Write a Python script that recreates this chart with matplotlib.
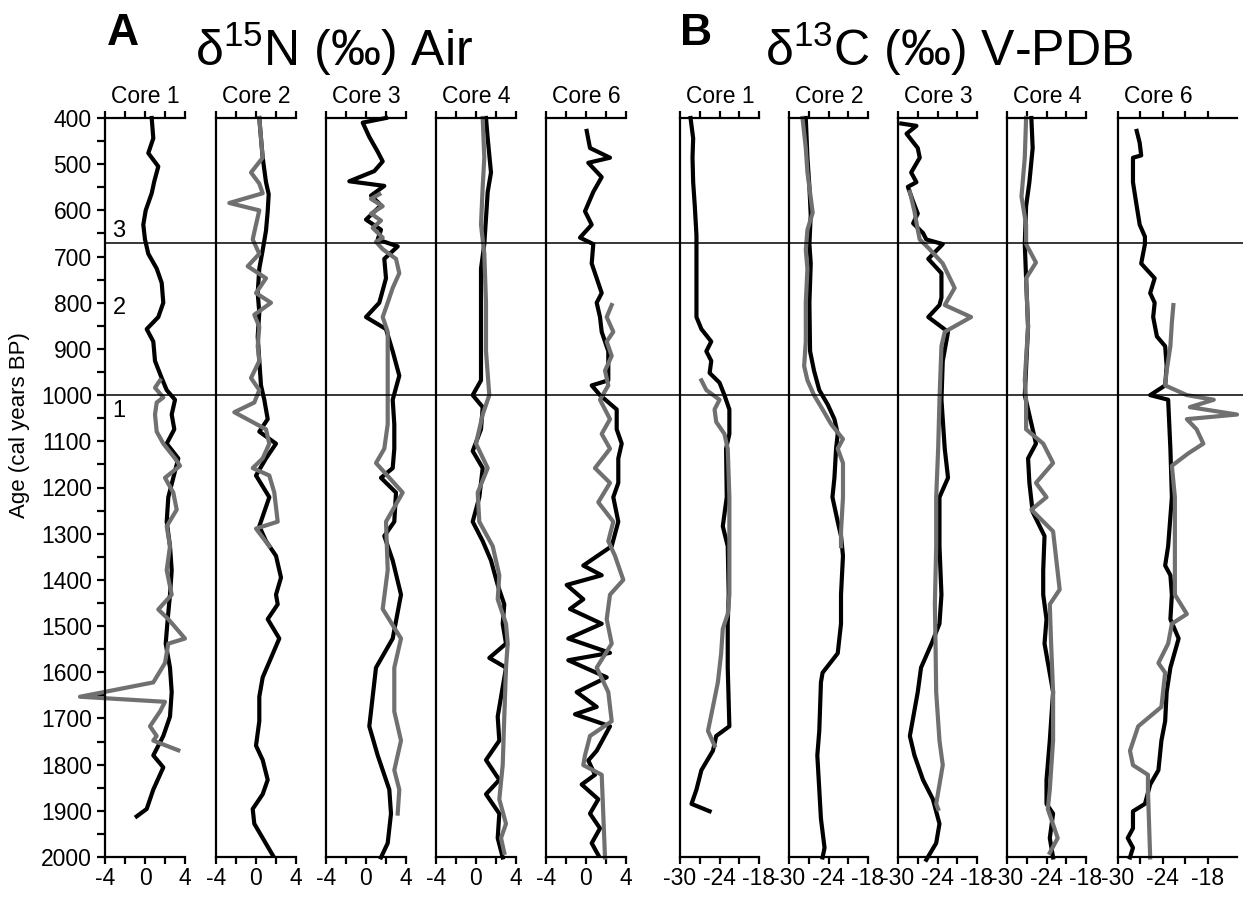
import matplotlib
matplotlib.use("Agg")
import matplotlib.pyplot as plt
from matplotlib.lines import Line2D
from matplotlib.transforms import blended_transform_factory

plt.rcParams['font.family'] = ['Liberation Sans', 'DejaVu Sans']
plt.rcParams['mathtext.fontset'] = 'custom'
plt.rcParams['mathtext.rm'] = 'Liberation Sans'

# ---- datos (edad cal BP, valor) ----
# d15N
a1_k_age = [400, 444, 476, 505, 537, 563, 600, 631, 663, 694, 726, 757, 800, 831, 857, 884, 926, 963, 989, 1010, 1042, 1074, 1105, 1137, 1179, 1221, 1274, 1327, 1379, 1432, 1485, 1538, 1590, 1643, 1696, 1738, 1780, 1806, 1854, 1896, 1912]
a1_k_val = [0.67, 0.83, 0.33, 1.33, 0.93, 0.67, 0.07, -0.17, 0, 0.33, 1.17, 1.67, 1.83, 1.33, 0.17, 0.83, 1.0, 1.67, 2.17, 3.0, 2.67, 2.93, 2.17, 3.33, 2.83, 2.33, 2.17, 2.5, 2.67, 2.5, 2.27, 2.07, 2.5, 2.67, 2.5, 1.83, 0.83, 1.83, 0.83, 0.17, -0.83]
a1_g_age = [968, 984, 1005, 1016, 1042, 1079, 1105, 1137, 1153, 1179, 1211, 1248, 1284, 1327, 1379, 1432, 1464, 1485, 1527, 1538, 1580, 1622, 1653, 1664, 1685, 1717, 1738, 1748, 1769]
a1_g_val = [1.5, 1.0, 1.83, 1.17, 1.0, 1.17, 1.83, 3.0, 3.5, 2.0, 2.83, 3.17, 2.17, 2.5, 2.17, 2.67, 1.33, 2.33, 4.0, 2.33, 2.0, 0.83, -6.5, 2.0, 1.5, 0.5, 1.17, 0.83, 3.33]

a2_k_age = [400, 444, 486, 539, 565, 602, 644, 686, 726, 779, 821, 873, 926, 979, 1010, 1052, 1079, 1105, 1137, 1174, 1221, 1284, 1316, 1348, 1395, 1432, 1453, 1485, 1527, 1569, 1611, 1653, 1706, 1759, 1790, 1833, 1864, 1896, 1928, 1959, 1996]
a2_k_val = [0.33, 0.5, 0.67, 1.0, 1.27, 1.17, 1.0, 0.67, 0.33, 0.17, 0.33, 0.17, 0.33, 0.5, 0.83, 1.17, 0.33, 2.0, 1.0, 0, 1.33, 0.33, 1.0, 2.0, 2.5, 2.0, 2.17, 1.17, 2.33, 1.5, 0.67, 0.33, 0.33, 0, 0.67, 1.17, 0.67, -0.33, -0.17, 0.67, 1.67]
a2_g_age = [400, 444, 486, 518, 542, 563, 584, 600, 631, 663, 694, 721, 747, 779, 800, 826, 852, 894, 926, 963, 989, 1016, 1037, 1074, 1105, 1137, 1158, 1174, 1211, 1274, 1289, 1327]
a2_g_val = [0.33, 0.5, 0.67, -0.5, 0.33, 0.67, -2.67, 0.33, 0, -0.33, 0.33, -0.83, 1.0, 0, 1.5, -0.17, 0.33, 0.17, 0.33, -0.5, 0.33, -0.17, -2.17, 1.0, 1.33, 0.67, -0.33, 1.33, 1.83, 2.17, 0, 1.33]

a3_k_age = [400, 410, 441, 473, 494, 515, 537, 547, 568, 589, 620, 642, 663, 678, 705, 747, 800, 831, 857, 905, 958, 1010, 1063, 1116, 1158, 1179, 1211, 1274, 1305, 1358, 1432, 1527, 1590, 1717, 1780, 1854, 1906, 1970, 2001]
a3_k_val = [2.0, -0.33, 0.33, 1.17, 1.67, 0.83, -1.67, 1.83, 0.5, 1.5, 0, 1.5, 1.17, 3.17, 1.83, 2.0, 1.33, 0.0, 2.0, 2.67, 3.33, 2.67, 2.83, 2.83, 2.67, 1.5, 3.0, 2.83, 1.83, 2.67, 3.5, 2.67, 1.0, 0.33, 1.17, 2.33, 2.5, 2.17, 1.5]
a3_g_age = [565, 575, 591, 607, 622, 638, 659, 668, 684, 705, 736, 768, 800, 831, 863, 958, 1063, 1116, 1147, 1211, 1274, 1379, 1463, 1527, 1590, 1685, 1748, 1812, 1854, 1906]
a3_g_val = [1.33, 0.5, 1.67, 0.5, 1.5, 0.67, 1.67, 1.0, 1.67, 3.0, 3.33, 2.67, 2.17, 1.67, 2.17, 2.17, 2.17, 1.83, 1.0, 3.67, 2.0, 2.17, 1.67, 3.5, 2.83, 2.83, 3.5, 2.83, 3.33, 3.17]

a4_k_age = [400, 444, 518, 560, 617, 673, 726, 800, 884, 968, 1000, 1026, 1074, 1121, 1158, 1221, 1274, 1316, 1358, 1411, 1453, 1495, 1538, 1569, 1590, 1696, 1748, 1790, 1833, 1864, 1906, 1959, 2001]
a4_k_val = [1.0, 1.17, 1.5, 1.17, 1.0, 0.83, 0.5, 0.5, 0.5, 0.5, -0.33, 0.67, 0.5, -0.33, 0.67, 0.33, -0.33, 0.67, 1.5, 2.17, 2.83, 2.67, 3.0, 1.33, 3.0, 2.17, 2.33, 1.0, 2.33, 1.0, 2.33, 2.17, 2.67]
a4_g_age = [400, 486, 549, 631, 694, 800, 905, 1000, 1042, 1105, 1158, 1211, 1274, 1327, 1390, 1442, 1495, 1538, 1590, 1696, 1801, 1875, 1928, 1959, 1991]
a4_g_val = [0.67, 0.83, 0.67, 0.5, 0.83, 1.0, 1.0, 1.33, 0.67, 0, 1.17, 0.17, 0.33, 1.67, 2.33, 2.17, 3.0, 3.17, 3.0, 2.83, 2.67, 2.33, 3.0, 2.5, 2.83]

a6_k_age = [428, 465, 486, 497, 528, 560, 602, 631, 659, 673, 715, 747, 779, 800, 831, 863, 905, 968, 979, 1000, 1031, 1074, 1105, 1137, 1190, 1221, 1274, 1327, 1369, 1390, 1411, 1442, 1463, 1495, 1527, 1558, 1574, 1611, 1643, 1675, 1691, 1717, 1770, 1791, 1822, 1843, 1875, 1906, 1938, 1970, 1996]
a6_k_val = [0.07, 0.4, 2.4, 0.23, 1.57, 0.73, -0.1, 0.57, -0.6, 0.73, 0.57, 1.07, 1.57, 1.07, 1.4, 1.57, 2.23, 2.23, 0.57, 1.4, 3.07, 3.07, 3.57, 3.23, 3.23, 2.73, 3.23, 2.57, -0.27, 1.57, -1.93, -0.27, -1.6, 1.57, -1.77, 2.4, -1.77, 2.07, -0.93, 1.07, -1.1, 2.4, 1.07, 0.23, 0.9, -0.43, 1.23, 0.4, 1.4, 0.57, 1.23]
a6_g_age = [805, 831, 863, 884, 915, 947, 979, 1010, 1052, 1084, 1116, 1158, 1190, 1232, 1274, 1316, 1348, 1400, 1432, 1485, 1538, 1590, 1643, 1706, 1738, 1780, 1801, 1822, 2001]
a6_g_val = [2.57, 2.07, 2.73, 2.07, 2.57, 1.9, 2.23, 1.4, 2.4, 1.57, 2.4, 0.9, 2.4, 1.23, 2.73, 2.23, 2.9, 3.73, 2.4, 2.07, 2.57, 1.07, 2.23, 2.57, 0.4, -0.1, -0.27, 1.57, 1.9]

# d13C
b1_k_age = [400, 444, 486, 539, 591, 654, 715, 779, 831, 857, 884, 905, 926, 952, 973, 1000, 1031, 1084, 1116, 1221, 1284, 1327, 1432, 1495, 1590, 1717, 1738, 1770, 1812, 1854, 1885, 1901]
b1_k_val = [-28.4, -28.0, -28.1, -28.0, -27.75, -27.5, -27.5, -27.5, -27.5, -26.75, -25.25, -26.0, -25.25, -25.5, -24.0, -23.25, -22.5, -22.5, -23.0, -22.9, -23.5, -22.75, -22.6, -22.75, -22.75, -22.5, -24.5, -25.0, -26.75, -27.5, -28.25, -25.5]
b1_g_age = [968, 989, 1010, 1031, 1058, 1084, 1116, 1221, 1327, 1432, 1474, 1506, 1559, 1622, 1675, 1727, 1759]
b1_g_val = [-26.75, -26.0, -24.0, -24.75, -24.5, -23.25, -22.75, -22.5, -22.5, -22.5, -22.75, -23.5, -23.75, -24.25, -25.0, -25.75, -24.75]

b2_k_age = [400, 486, 549, 610, 673, 715, 800, 905, 947, 989, 1021, 1052, 1084, 1116, 1179, 1221, 1274, 1305, 1348, 1432, 1495, 1559, 1601, 1622, 1727, 1780, 1854, 1917, 1980, 2001]
b2_k_val = [-27.45, -27.2, -26.9, -26.7, -26.9, -26.7, -26.9, -26.8, -26.2, -25.4, -24.1, -23.1, -22.6, -22.85, -23.1, -23.4, -22.6, -22.1, -21.8, -22.1, -22.1, -22.6, -24.9, -25.15, -25.4, -25.7, -25.4, -25.15, -24.6, -24.9]
b2_g_age = [400, 465, 518, 605, 642, 686, 726, 800, 884, 937, 968, 1000, 1031, 1063, 1095, 1116, 1147, 1221, 1295, 1327]
b2_g_val = [-27.95, -27.45, -27.2, -26.4, -27.2, -27.45, -27.2, -27.45, -27.45, -27.7, -27.2, -26.2, -24.9, -23.6, -21.8, -22.6, -21.8, -21.8, -22.1, -22.1]

b3_k_age = [412, 417, 434, 465, 486, 518, 539, 549, 581, 607, 628, 649, 663, 673, 705, 736, 789, 805, 831, 863, 926, 1010, 1116, 1179, 1221, 1327, 1432, 1495, 1538, 1590, 1643, 1738, 1780, 1833, 1875, 1928, 1970, 2006]
b3_k_val = [-29.5, -27.2, -28.7, -27.0, -26.7, -28.0, -27.2, -28.5, -27.7, -27.0, -27.7, -26.2, -25.7, -23.2, -25.4, -23.4, -23.4, -23.7, -25.4, -22.4, -23.2, -23.4, -22.9, -22.4, -23.7, -23.7, -23.4, -23.7, -24.9, -26.5, -27.0, -28.2, -27.5, -26.2, -24.7, -23.7, -24.2, -25.7]
b3_g_age = [560, 602, 642, 663, 684, 715, 768, 805, 831, 863, 894, 1010, 1116, 1221, 1327, 1453, 1538, 1643, 1748, 1801, 1843, 1885, 1896]
b3_g_val = [-28.2, -27.5, -27.0, -26.7, -25.2, -23.2, -21.4, -22.9, -18.9, -22.9, -23.4, -23.7, -23.9, -24.2, -24.2, -24.4, -24.3, -24.2, -23.7, -23.2, -23.7, -24.2, -23.9]

b4_k_age = [400, 465, 539, 591, 673, 747, 852, 1000, 1074, 1105, 1137, 1190, 1253, 1305, 1379, 1432, 1485, 1538, 1643, 1748, 1833, 1885, 1906, 1959, 2001]
b4_k_val = [-26.3, -26.1, -26.6, -27.1, -27.3, -27.1, -26.8, -27.3, -26.1, -25.6, -26.8, -26.6, -26.1, -24.3, -24.5, -24.5, -24.0, -24.3, -23.0, -23.5, -24.0, -24.0, -23.0, -23.5, -23.0]
b4_g_age = [400, 486, 570, 631, 673, 713, 747, 852, 968, 1010, 1074, 1105, 1147, 1190, 1221, 1248, 1295, 1421, 1453, 1538, 1643, 1748, 1854, 1896, 1959, 1991]
b4_g_val = [-27.1, -27.3, -27.8, -27.1, -27.1, -25.6, -27.1, -26.8, -27.3, -27.1, -27.1, -24.5, -23.0, -25.6, -24.0, -26.3, -23.0, -22.0, -23.5, -23.3, -23.0, -23.0, -23.5, -23.8, -22.3, -23.5]

b6_k_age = [428, 454, 481, 486, 539, 591, 631, 657, 673, 715, 747, 779, 800, 831, 873, 894, 937, 979, 1000, 1010, 1116, 1221, 1327, 1369, 1390, 1432, 1485, 1527, 1590, 1643, 1706, 1748, 1812, 1843, 1885, 1901, 1938, 1959, 1980, 2001]
b6_k_val = [-27.5, -27.1, -26.9, -28.0, -28.0, -27.5, -27.1, -26.4, -26.4, -26.9, -25.1, -25.7, -25.1, -25.3, -24.8, -23.7, -23.5, -23.7, -25.7, -23.3, -23.0, -22.8, -23.3, -23.7, -23.0, -22.8, -23.0, -21.9, -23.0, -23.5, -23.7, -24.2, -24.6, -25.7, -26.4, -28.0, -28.0, -28.7, -28.0, -28.4]
b6_g_age = [805, 842, 894, 947, 979, 1000, 1010, 1026, 1042, 1052, 1074, 1105, 1126, 1153, 1221, 1327, 1432, 1474, 1495, 1538, 1580, 1601, 1675, 1717, 1770, 1801, 1822, 1854, 2001]
b6_g_val = [-22.6, -22.8, -23.0, -23.5, -23.7, -20.8, -17.2, -20.4, -14.1, -20.8, -19.5, -18.6, -20.6, -22.8, -22.4, -22.4, -22.4, -20.8, -22.8, -23.3, -24.6, -23.7, -24.2, -27.3, -28.4, -28.0, -26.0, -26.0, -25.7]

nucleos = ['Core 1', 'Core 2', 'Core 3', 'Core 4', 'Core 6']
zonas = [670, 1000]
zona_txt = [(645, '3'), (812, '2'), (1035, '1')]

# ---- figura ----
W, H = 1243, 898
fig = plt.figure(figsize=(W / 100, H / 100), dpi=100)
y_top, y_bot = 118, 857

def px_axes(left, width):
    return fig.add_axes([left / W, 1 - y_bot / H, width / W, (y_bot - y_top) / H])

paneles = [
    (105, 80, (-4, 4), a1_k_age, a1_k_val, a1_g_age, a1_g_val),
    (216, 80, (-4, 4), a2_k_age, a2_k_val, a2_g_age, a2_g_val),
    (326, 80, (-4, 4), a3_k_age, a3_k_val, a3_g_age, a3_g_val),
    (436, 80, (-4, 4), a4_k_age, a4_k_val, a4_g_age, a4_g_val),
    (546, 80, (-4, 4), a6_k_age, a6_k_val, a6_g_age, a6_g_val),
    (680, 79, (-30, -18), b1_k_age, b1_k_val, b1_g_age, b1_g_val),
    (789, 79, (-30, -18), b2_k_age, b2_k_val, b2_g_age, b2_g_val),
    (898, 79, (-30, -18), b3_k_age, b3_k_val, b3_g_age, b3_g_val),
    (1007, 79, (-30, -18), b4_k_age, b4_k_val, b4_g_age, b4_g_val),
    (1118, 119, (-30, -14.1), b6_k_age, b6_k_val, b6_g_age, b6_g_val),
]

gris = '#707070'
ejes = []
for i, (left, width, xl, k_age, k_val, g_age, g_val) in enumerate(paneles):
    ax = px_axes(left, width)
    ejes.append(ax)
    ax.plot(k_val, k_age, color='black', lw=3.0, clip_on=False, solid_joinstyle='round')
    ax.plot(g_val, g_age, color=gris, lw=3.0, clip_on=False, solid_joinstyle='round')
    ax.set_ylim(2000, 400)
    ax.set_xlim(*xl)
    ax.spines['right'].set_visible(False)
    for s in ['left', 'top', 'bottom']:
        ax.spines[s].set_linewidth(1.6)
    if i < 5:
        ax.set_xticks([-4, -2, 0, 2, 4])
        ax.set_xticklabels(['-4', '', '0', '', '4'])
    else:
        ax.set_xticks([-30, -27, -24, -21, -18])
        ax.set_xticklabels(['-30', '', '-24', '', '-18'])
    ax.tick_params(axis='x', top=True, bottom=True, direction='out', length=5,
                   width=1.6, labelsize=16.5, pad=2)
    if i == 0:
        ax.set_yticks(range(400, 2001, 100))
        ax.set_yticks(range(450, 2000, 100), minor=True)
        ax.tick_params(axis='y', which='both', direction='out', length=5.5, width=1.6,
                       labelsize=16.5, pad=4)
    else:
        ax.set_yticks([])
    ax.patch.set_alpha(0)
    fig.text((left + 40) / W, 1 - 103 / H, nucleos[i % 5], fontsize=16.5,
             ha='center', va='baseline')

# lineas de zonas
tr = blended_transform_factory(fig.transFigure, ejes[0].transData)
for z in zonas:
    fig.add_artist(Line2D([105 / W, 1.0], [z, z], transform=tr, color='black', lw=1.1))
for age, t in zona_txt:
    ejes[0].text(-2.6, age, t, fontsize=17, ha='center', va='center')

fig.text(20 / W, 1 - 425 / H, 'Age (cal years BP)', fontsize=16, rotation=90,
         ha='center', va='center')

fig.text(107 / W, 1 - 45 / H, 'A', fontsize=32, weight='bold', ha='left', va='baseline')
fig.text(680 / W, 1 - 45 / H, 'B', fontsize=32, weight='bold', ha='left', va='baseline')
fig.text(195 / W, 1 - 66 / H, r'δ$^{\mathregular{15}}$N (‰) Air', fontsize=36,
         ha='left', va='baseline')
fig.text(765 / W, 1 - 66 / H, r'δ$^{\mathregular{13}}$C (‰) V-PDB', fontsize=36,
         ha='left', va='baseline')

fig.savefig('out.png', dpi=100)
